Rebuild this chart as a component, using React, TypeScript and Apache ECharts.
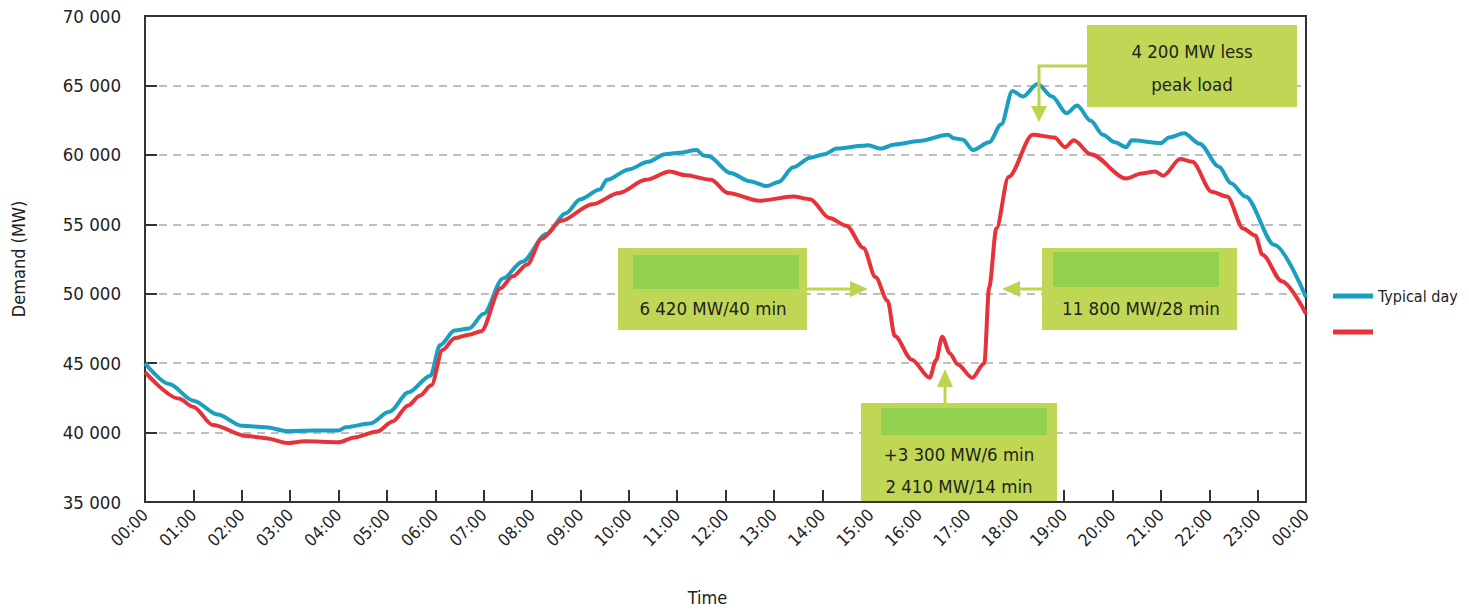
import React, { useEffect, useRef } from "react";
import * as echarts from "echarts";

const FONT = '"DejaVu Sans Condensed", "DejaVu Sans", sans-serif';

// time in hours since midnight
const typicalTimes = [0, 0.5, 1.0, 1.5, 2.0, 2.5, 2.95, 3.5, 4.0, 4.15, 4.65, 5.05, 5.45, 5.9, 6.1, 6.4, 6.7, 7.0, 7.4, 7.8, 8.3, 8.7, 9.0, 9.4, 9.55, 10.0, 10.4, 10.75, 11.05, 11.4, 11.55, 11.65, 12.1, 12.5, 12.85, 13.1, 13.4, 13.75, 14.05, 14.3, 14.85, 14.95, 15.2, 15.5, 16.0, 16.6, 16.72, 16.9, 17.12, 17.45, 17.7, 17.93, 18.15, 18.45, 18.75, 19.05, 19.27, 19.55, 19.8, 20.05, 20.28, 20.4, 21.0, 21.17, 21.48, 21.8, 22.2, 22.45, 22.75, 23.35, 24.0];
const typicalValues = [45000, 43500, 42300, 41300, 40500, 40380, 40100, 40150, 40150, 40380, 40650, 41500, 42900, 44100, 46300, 47350, 47500, 48550, 51100, 52300, 54300, 55800, 56800, 57500, 58200, 58950, 59500, 60050, 60150, 60350, 59950, 59900, 58700, 58100, 57750, 58050, 59100, 59800, 60050, 60450, 60650, 60700, 60450, 60750, 61000, 61450, 61200, 61100, 60350, 60900, 62200, 64600, 64200, 65100, 64200, 63000, 63550, 62450, 61450, 60900, 60550, 61050, 60850, 61250, 61550, 60800, 59150, 57950, 57000, 53500, 49750];

const otherTimes = [0, 0.7, 1.0, 1.4, 2.1, 2.5, 2.95, 3.3, 4.0, 4.33, 4.8, 5.12, 5.44, 5.68, 5.92, 6.15, 6.4, 6.7, 6.95, 7.35, 7.6, 7.9, 8.2, 8.6, 9.25, 9.8, 10.35, 10.85, 11.15, 11.7, 12.05, 12.7, 13.4, 13.75, 14.15, 14.5, 14.85, 15.1, 15.35, 15.5, 15.85, 16.22, 16.35, 16.48, 16.64, 16.8, 17.1, 17.35, 17.45, 17.6, 17.85, 18.35, 18.8, 19.02, 19.2, 19.55, 20.28, 20.6, 20.88, 21.05, 21.4, 21.65, 22.05, 22.37, 22.7, 22.95, 23.1, 23.5, 24.0];
const otherValues = [44350, 42450, 41850, 40550, 39750, 39600, 39250, 39370, 39300, 39650, 40080, 40800, 41950, 42650, 43400, 45950, 46800, 47050, 47300, 50400, 51250, 52100, 53950, 55250, 56450, 57250, 58200, 58800, 58550, 58200, 57250, 56700, 57000, 56800, 55450, 54900, 53300, 51200, 49500, 46950, 45250, 43950, 45200, 46900, 45700, 44900, 43950, 45000, 50450, 54700, 58400, 61450, 61250, 60550, 61050, 60050, 58300, 58650, 58800, 58500, 59700, 59500, 57350, 57000, 54700, 54200, 52800, 50900, 48550];

const seriesNames = ["Typical day", " "];
const annotationTexts = ["6 420 MW/40 min", "11 800 MW/28 min", "+3 300 MW/6 min", "2 410 MW/14 min", "4 200 MW less", "peak load"];

const BOX = "#c0d655";
const INNER = "#92d050";
const ARROW = "#bcd54e";

function fmtThousands(v: number) {
  return String(v).replace(/\B(?=(\d{3})+(?!\d))/g, " ");
}

function boxText(text: string, x: number, y: number) {
  return {
    type: "text",
    z: 20,
    style: { text, x, y, fill: "#222", fontSize: 18.5, fontFamily: FONT, align: "center", verticalAlign: "middle" },
  };
}
function rect(x: number, y: number, w: number, h: number, fill: string) {
  return { type: "rect", z: 15, shape: { x, y, width: w, height: h }, style: { fill } };
}
function shaft(points: number[][]) {
  return { type: "polyline", z: 15, shape: { points }, style: { stroke: ARROW, lineWidth: 3, fill: null } };
}
function head(points: number[][]) {
  return { type: "polygon", z: 15, shape: { points }, style: { fill: ARROW } };
}

export default function App() {
  const ref = useRef<HTMLDivElement>(null);
  useEffect(() => {
    if (!ref.current) return;
    const chart = echarts.init(ref.current, null, { renderer: "svg" });
    chart.setOption({
      animation: false,
      backgroundColor: "#fff",
      grid: { left: 145, right: 163, top: 16, bottom: 99, show: true, borderColor: "#333", borderWidth: 2 },
      legend: {
        orient: "vertical",
        left: 1328,
        top: 283,
        itemWidth: 40,
        itemHeight: 5,
        itemGap: 20,
        icon: "rect",
        textStyle: { fontSize: 16, fontFamily: FONT, color: "#222" },
        data: seriesNames,
      },
      xAxis: {
        type: "value",
        min: 0,
        max: 24,
        interval: 1,
        name: "Time",
        nameLocation: "middle",
        nameGap: 86,
        nameTextStyle: { fontSize: 18, fontFamily: FONT, color: "#222", padding: [0, 36, 0, 0] },
        axisLine: { lineStyle: { color: "#333", width: 2 } },
        axisTick: { inside: true, length: 12, lineStyle: { color: "#333", width: 2 } },
        splitLine: { show: false },
        axisLabel: {
          rotate: 45,
          margin: 10,
          fontSize: 17,
          fontFamily: FONT,
          color: "#222",
          formatter: (v: number) => String(v % 24).padStart(2, "0") + ":00",
        },
      },
      yAxis: {
        type: "value",
        min: 35000,
        max: 70000,
        interval: 5000,
        name: "Demand (MW)",
        nameLocation: "middle",
        nameGap: 118,
        nameTextStyle: { fontSize: 18, fontFamily: FONT, color: "#222" },
        axisLine: { show: true, lineStyle: { color: "#333", width: 2 } },
        axisTick: { show: true, inside: true, length: 12, lineStyle: { color: "#333", width: 2 } },
        splitLine: { show: true, showMinLine: false, showMaxLine: false, lineStyle: { color: "#aaa", width: 1.5, type: [8, 6] } },
        axisLabel: { margin: 24, fontSize: 18.5, fontFamily: FONT, color: "#222", formatter: (v: number) => fmtThousands(v) },
      },
      series: [
        {
          name: seriesNames[0],
          type: "line",
          data: typicalTimes.map((t, i) => [t, typicalValues[i]]),
          smooth: 0.3,
          smoothMonotone: "x",
          showSymbol: false,
          color: "#1a9fc1",
          lineStyle: { width: 4, color: "#1a9fc1" },
          z: 3,
        },
        {
          name: seriesNames[1],
          type: "line",
          data: otherTimes.map((t, i) => [t, otherValues[i]]),
          smooth: 0.3,
          smoothMonotone: "x",
          showSymbol: false,
          color: "#e8323a",
          lineStyle: { width: 4, color: "#e8323a" },
          z: 4,
        },
      ],
      graphic: [
        // box 1
        rect(618, 248, 189, 82, BOX),
        rect(633, 255, 166, 34, INNER),
        boxText(annotationTexts[0], 713, 308),
        shaft([[807, 289], [852, 289]]),
        head([[850, 281], [868, 289], [850, 297]]),
        // box 2
        rect(1042, 248, 195, 82, BOX),
        rect(1053, 252, 166, 35, INNER),
        boxText(annotationTexts[1], 1141, 308),
        shaft([[1042, 289], [1018, 289]]),
        head([[1020, 281], [1002, 289], [1020, 297]]),
        // box 3
        rect(861, 403, 196, 98, BOX),
        rect(881, 408, 166, 27, INNER),
        boxText(annotationTexts[2], 959, 454),
        boxText(annotationTexts[3], 959, 486),
        shaft([[945, 403], [945, 385]]),
        head([[937, 387], [945, 369], [953, 387]]),
        // box 4
        rect(1087, 25, 210, 82, BOX),
        boxText(annotationTexts[4], 1192, 51),
        boxText(annotationTexts[5], 1192, 84),
        shaft([[1087, 66], [1039, 66], [1039, 108]]),
        head([[1031, 106], [1039, 122], [1047, 106]]),
      ],
    });
    return () => chart.dispose();
  }, []);
  return <div ref={ref} style={{ position: "fixed", left: 0, top: 0, width: 1469, height: 611 }} />;
}
